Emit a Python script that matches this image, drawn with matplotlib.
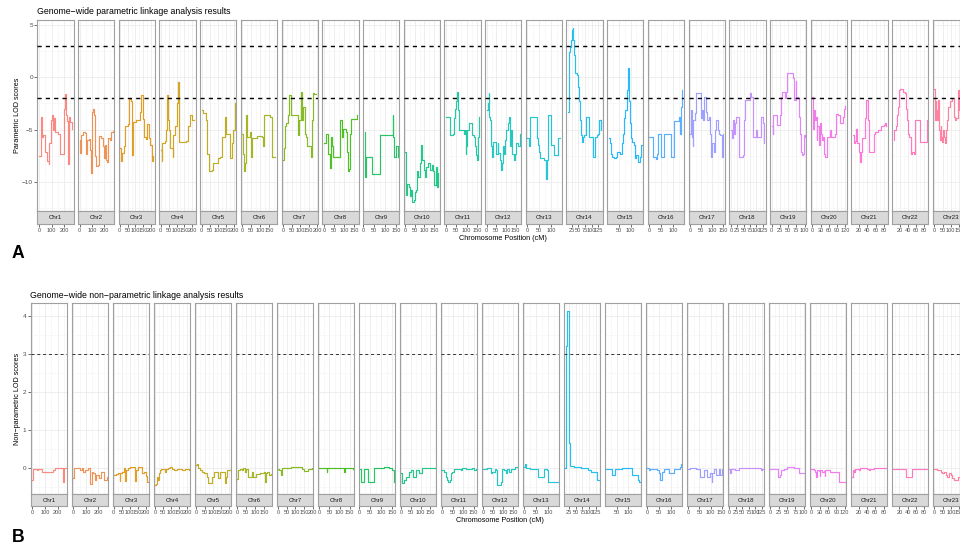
import numpy as np
import matplotlib
matplotlib.use("Agg")
import matplotlib.pyplot as plt

plt.rcParams['font.family'] = ['Liberation Sans', 'DejaVu Sans']

# Parametric LOD scores per chromosome (position in cM, score)
chr1_cm = [0, 16, 21, 29, 47, 60, 76, 81, 97, 104, 110, 117, 126, 150, 168, 199, 207, 215, 223, 231, 238, 246, 262]
chr1_lod = [-7.5, -3.8, -5.7, -5.5, -7.1, -8.0, -8.3, -6.3, -4.1, -3.6, -5.0, -3.9, -5.2, -5.4, -7.3, -3.0, -1.6, -3.6, -4.2, -8.3, -3.8, -4.3, -4.9]
chr2_cm = [0, 5, 11, 27, 40, 48, 56, 72, 86, 96, 102, 107, 115, 123, 131, 153, 158, 174, 188, 196, 206, 217, 225, 233, 247, 257, 268]
chr2_lod = [-6.0, -7.2, -5.5, -5.2, -5.3, -7.3, -6.0, -5.9, -7.0, -9.2, -3.3, -3.0, -3.6, -7.5, -8.5, -8.4, -5.6, -5.8, -6.6, -7.7, -6.5, -7.9, -8.1, -5.8, -6.0, -5.2, -5.1]
chr3_cm = [4, 8, 15, 25, 35, 50, 60, 70, 75, 85, 105, 130, 138, 146, 155, 166, 176, 186, 194, 203, 214]
chr3_lod = [-6.8, -8.0, -7.2, -6.6, -4.7, -4.5, -2.1, -2.3, -7.4, -4.3, -4.1, -3.3, -1.7, -4.0, -5.7, -5.9, -4.5, -5.8, -6.5, -8.0, -7.5]
chr4_cm = [3, 7, 11, 28, 34, 42, 49, 55, 59, 75, 80, 90, 100, 107, 113, 117, 162, 173, 183, 200, 210]
chr4_lod = [-7.0, -8.0, -6.3, -6.1, -5.0, -1.7, -4.1, -5.0, -6.8, -7.6, -5.5, -4.7, -2.5, -0.4, -4.1, -6.2, -6.1, -4.7, -3.6, -4.1, -4.1]
chr5_cm = [0, 10, 25, 31, 47, 62, 72, 103, 113, 123, 144, 150, 174, 178, 185, 195, 205]
chr5_lod = [-3.1, -3.4, -4.1, -7.3, -9.0, -8.9, -8.2, -7.7, -7.6, -5.7, -3.8, -5.4, -5.5, -7.7, -6.3, -5.0, -2.5]
chr6_cm = [0, 4, 9, 15, 20, 28, 43, 46, 52, 80, 107, 117, 122, 157, 163, 185]
chr6_lod = [-5.4, -7.3, -9.0, -8.2, -3.6, -5.7, -5.2, -7.6, -5.8, -5.6, -5.7, -6.6, -3.6, -3.8, -7.6, -7.6]
chr7_cm = [0, 6, 11, 19, 28, 34, 47, 51, 85, 91, 95, 104, 114, 120, 129, 133, 142, 148, 165, 171, 177, 184, 195]
chr7_lod = [-7.9, -6.8, -4.7, -4.4, -3.6, -1.7, -3.6, -3.6, -5.5, -4.7, -4.1, -1.4, -4.1, -2.8, -5.4, -5.7, -6.6, -6.6, -7.6, -4.1, -1.5, -1.6, -1.6]
chr8_cm = [0, 13, 23, 30, 35, 40, 46, 76, 83, 89, 96, 109, 116, 120, 125, 129, 134, 165]
chr8_lod = [-6.3, -5.4, -7.3, -8.7, -5.7, -6.6, -7.6, -7.6, -4.1, -5.7, -4.9, -5.2, -7.1, -9.0, -8.8, -5.4, -4.0, -3.6]
chr9_cm = [5, 8, 13, 36, 41, 72, 75, 129, 134, 137, 141, 149, 157]
chr9_lod = [-5.2, -9.5, -7.6, -7.6, -9.3, -9.3, -5.5, -5.5, -3.6, -5.7, -7.6, -6.6, -7.6]
chr10_cm = [0, 5, 11, 19, 25, 32, 37, 46, 51, 58, 63, 68, 75, 81, 86, 89, 96, 102, 110, 119, 128, 137, 145, 151, 158, 163, 172]
chr10_lod = [-7.1, -11.3, -10.2, -10.5, -11.4, -10.8, -11.9, -11.7, -11.0, -10.8, -9.0, -9.5, -8.2, -6.5, -6.7, -7.9, -8.9, -9.5, -8.6, -8.2, -8.9, -8.4, -9.0, -10.3, -8.6, -10.5, -9.2]
chr11_cm = [0, 19, 21, 35, 38, 43, 48, 54, 59, 62, 86, 91, 96, 99, 104, 112, 123, 126, 134, 139, 144, 150, 155, 160]
chr11_lod = [-3.8, -3.9, -5.5, -5.4, -3.9, -3.0, -2.3, -1.4, -3.1, -5.0, -5.4, -5.0, -7.3, -6.6, -5.0, -4.4, -4.4, -5.5, -5.7, -6.6, -7.4, -7.9, -5.7, -3.8]
chr12_cm = [0, 5, 10, 14, 19, 22, 27, 34, 48, 56, 61, 68, 73, 78, 85, 90, 97, 102, 110, 116, 122, 128, 133, 139, 145, 153, 162, 170]
chr12_lod = [-3.1, -2.5, -1.5, -3.8, -4.1, -6.6, -7.6, -6.2, -7.3, -6.3, -7.2, -7.9, -8.9, -8.2, -6.6, -7.3, -6.0, -5.0, -4.4, -3.8, -6.6, -5.0, -7.3, -7.9, -7.3, -6.3, -6.6, -5.4]
chr13_cm = [0, 6, 8, 11, 36, 39, 45, 50, 55, 69, 76, 80, 83, 87, 97, 99, 108, 111, 129, 140]
chr13_lod = [-5.8, -5.8, -6.6, -3.8, -3.8, -5.8, -6.5, -7.1, -7.7, -7.9, -7.9, -9.7, -7.9, -3.6, -3.6, -6.5, -6.5, -7.4, -5.8, -5.8]
chr14_cm = [12, 14, 17, 21, 23, 27, 29, 32, 35, 39, 45, 49, 53, 57, 60, 64, 67, 72, 78, 89, 91, 101, 104, 109, 113, 119, 125, 129, 133, 135]
chr14_lod = [-3.3, -1.9, 2.4, 2.9, 3.6, 4.5, 4.7, 3.6, 2.1, 0.4, 0.2, -0.9, -2.3, -4.1, -5.5, -6.2, -5.7, -5.5, -3.8, -3.8, -5.7, -5.7, -7.6, -7.6, -5.7, -5.5, -5.4, -4.1, -5.0, -4.1]
chr15_cm = [6, 12, 16, 20, 30, 37, 43, 54, 61, 66, 71, 77, 83, 87, 90, 93, 97, 101, 108, 114, 120, 125, 130, 134, 139, 144, 148]
chr15_lod = [-5.8, -6.3, -7.3, -7.6, -7.7, -7.6, -7.1, -7.3, -6.3, -5.4, -3.9, -3.1, -1.2, 0.4, 0.9, -2.3, -4.4, -5.8, -6.2, -6.5, -7.7, -7.4, -7.9, -8.1, -7.6, -6.5, -6.5]
chr16_cm = [0, 14, 17, 26, 31, 35, 47, 61, 86, 90, 100, 104, 125, 128, 132, 136, 139]
chr16_lod = [-5.7, -5.7, -7.6, -7.8, -7.3, -5.4, -7.6, -5.4, -5.4, -7.6, -7.6, -4.2, -3.8, -5.4, -2.8, -1.2, -1.2]
chr17_cm = [0, 3, 8, 11, 15, 21, 26, 44, 48, 51, 56, 60, 65, 71, 77, 84, 89, 96, 101, 107, 113, 119, 125, 131, 137, 143, 146, 150]
chr17_lod = [-5.4, -3.1, -5.7, -6.6, -4.1, -3.4, -1.5, -1.5, -3.3, -3.9, -3.1, -4.1, -1.9, -3.3, -4.1, -3.8, -5.4, -7.6, -6.3, -7.1, -5.0, -4.1, -5.0, -5.4, -5.5, -7.0, -7.6, -5.4]
chr18_cm = [0, 3, 7, 10, 13, 17, 22, 30, 48, 52, 55, 64, 74, 79, 85, 98, 100, 104, 113, 116, 122, 126, 129]
chr18_lod = [-5.0, -5.8, -5.4, -4.1, -5.4, -4.4, -3.8, -7.6, -7.4, -4.1, -2.2, -2.2, -1.5, -1.9, -5.7, -5.7, -5.0, -5.7, -5.7, -3.8, -3.8, -4.4, -6.3]
chr19_cm = [0, 3, 5, 15, 18, 23, 27, 30, 33, 37, 40, 45, 48, 63, 65, 68, 71, 73, 75, 80, 83, 85, 88, 91, 95, 98, 100]
chr19_lod = [-4.7, -5.4, -3.6, -3.6, -4.6, -4.6, -3.6, -1.9, -1.4, -1.4, -2.0, -1.4, 0.4, 0.4, -0.1, -2.2, -2.2, -0.3, -1.9, -2.0, -3.8, -5.4, -7.1, -7.4, -7.3, -5.5, -5.7]
chr20_cm = [0, 2, 5, 8, 11, 13, 16, 19, 23, 28, 31, 35, 38, 42, 46, 52, 55, 61, 64, 70, 82, 88, 94, 100, 106, 112, 116, 120]
chr20_lod = [-1.9, -4.9, -4.1, -3.1, -4.1, -3.8, -6.0, -4.7, -6.5, -4.4, -5.4, -6.0, -5.7, -7.3, -7.6, -7.6, -5.7, -5.7, -5.0, -5.7, -5.4, -3.5, -3.6, -4.4, -4.4, -3.8, -3.0, -2.7]
chr21_cm = [5, 7, 10, 13, 15, 18, 20, 22, 24, 27, 34, 36, 39, 42, 44, 52, 55, 59, 66, 74, 78, 81, 83, 85]
chr21_lod = [-5.5, -6.3, -6.1, -4.9, -6.3, -6.3, -7.1, -8.1, -7.1, -5.8, -3.9, -2.2, -2.2, -4.1, -7.1, -7.1, -5.4, -5.2, -5.0, -4.7, -4.7, -4.6, -4.4, -4.7]
chr22_cm = [5, 7, 10, 13, 16, 18, 21, 28, 32, 35, 38, 41, 44, 47, 51, 55, 59, 69, 71, 85, 87]
chr22_lod = [-6.0, -5.0, -4.7, -3.6, -2.8, -1.2, -1.1, -1.4, -1.5, -3.0, -4.1, -5.4, -5.7, -7.3, -7.1, -7.3, -4.1, -4.1, -6.2, -6.2, -4.1]
chr23_cm = [0, 4, 8, 12, 16, 20, 25, 31, 35, 39, 43, 47, 51, 57, 62, 68, 72, 78, 86, 96, 107, 117, 127, 133, 144, 150, 154, 164, 184, 201]
chr23_lod = [-1.1, -4.1, -2.3, -4.1, -3.1, -4.1, -2.2, -5.0, -6.0, -4.7, -5.7, -6.2, -5.0, -5.7, -6.3, -6.3, -5.0, -4.1, -2.8, -2.3, -2.0, -3.8, -4.1, -3.9, -1.2, -3.1, -4.1, -3.4, -4.4, -3.8]

# Non-parametric LOD scores per chromosome
chr1_npl_cm = [0, 3, 8, 34, 47, 73, 165, 178, 238, 246, 252, 262]
chr1_npl = [-0.33, -0.05, -0.02, -0.05, -0.02, -0.10, -0.06, 0.0, -0.37, -0.2, 0.0, 0.0]
chr2_npl_cm = [0, 5, 54, 67, 78, 94, 121, 134, 150, 161, 172, 185, 209, 225, 249, 268]
chr2_npl = [-0.28, 0.0, -0.07, 0.0, -0.1, -0.07, 0.0, -0.42, -0.1, -0.15, -0.32, -0.18, -0.28, -0.11, -0.32, -0.25]
chr3_npl_cm = [4, 17, 30, 38, 40, 55, 65, 71, 80, 90, 101, 136, 141, 151, 175, 181, 189, 200, 208, 214]
chr3_npl = [-0.19, -0.16, -0.14, -0.35, -0.15, -0.12, 0.0, -0.35, -0.05, 0.0, 0.03, -0.36, -0.07, 0.02, -0.01, -0.15, -0.1, -0.23, -0.37, -0.37]
chr4_npl_cm = [3, 9, 15, 21, 27, 33, 40, 61, 69, 83, 96, 106, 120, 137, 168, 189, 210]
chr4_npl = [-0.46, -0.42, -0.24, -0.32, -0.15, -0.07, -0.02, -0.1, -0.02, 0.0, 0.02, -0.02, -0.05, -0.02, -0.06, -0.04, -0.05]
chr5_npl_cm = [0, 6, 10, 25, 35, 45, 66, 72, 96, 109, 123, 133, 148, 174, 178, 185, 191, 205]
chr5_npl = [0.07, 0.11, 0.0, -0.06, -0.1, -0.15, -0.25, -0.40, -0.24, -0.1, -0.1, -0.27, -0.12, -0.1, -0.41, -0.24, -0.06, -0.05]
chr6_npl_cm = [0, 6, 15, 24, 33, 43, 48, 57, 61, 80, 89, 104, 126, 150, 155, 159, 167, 174, 185]
chr6_npl = [-0.3, -0.06, -0.02, -0.06, -0.01, -0.1, -0.02, -0.06, -0.24, -0.12, -0.24, -0.16, -0.15, -0.12, -0.37, -0.15, -0.1, -0.2, -0.16]
chr7_npl_cm = [0, 6, 15, 19, 76, 137, 152, 171, 195]
chr7_npl = [-0.02, -0.06, -0.2, 0.0, 0.01, -0.02, -0.08, -0.03, 0.0]
chr8_npl_cm = [0, 36, 40, 111, 124, 127, 165]
chr8_npl = [0.0, -0.1, 0.0, -0.01, -0.1, -0.01, -0.02]
chr9_npl_cm = [5, 8, 20, 41, 69, 114, 134, 149, 157]
chr9_npl = [-0.02, -0.37, -0.02, -0.37, 0.0, 0.03, 0.0, -0.06, -0.37]
chr10_npl_cm = [0, 5, 14, 23, 40, 49, 58, 75, 93, 107, 172]
chr10_npl = [-0.15, -0.4, -0.33, -0.24, -0.1, -0.05, -0.24, -0.05, -0.15, 0.0, 0.0]
chr11_npl_cm = [0, 8, 16, 24, 29, 35, 40, 48, 56, 88, 96, 112, 128, 144, 152, 160]
chr11_npl = [-0.06, -0.1, -0.24, -0.33, -0.37, -0.33, -0.15, -0.1, -0.02, -0.06, -0.01, -0.04, -0.02, 0.0, -0.06, -0.02]
chr12_npl_cm = [0, 20, 37, 44, 58, 63, 71, 80, 88, 94, 105, 114, 119, 131, 139, 163, 170]
chr12_npl = [-0.02, 0.0, -0.15, -0.1, -0.02, -0.06, -0.46, -0.46, -0.37, -0.02, -0.06, -0.15, -0.02, -0.1, -0.02, 0.01, 0.03]
chr13_npl_cm = [0, 3, 6, 25, 57, 81, 94, 98, 140]
chr13_npl = [0.02, 0.1, 0.0, -0.02, -0.24, -0.02, -0.05, -0.37, -0.37]
chr14_npl_cm = [12, 15, 16, 17, 18, 25, 26, 28, 29, 45, 70, 95, 105, 130, 135]
chr14_npl = [0.0, 0.05, 3.2, 3.6, 4.12, 3.7, 0.64, 0.6, 0.05, 0.02, 0.0, -0.05, -0.1, -0.33, -0.33]
chr15_npl_cm = [6, 32, 44, 74, 117, 140, 144, 148]
chr15_npl = [-0.02, -0.19, -0.02, -0.01, -0.19, -0.33, -0.37, -0.37]
chr16_npl_cm = [0, 6, 10, 40, 47, 51, 61, 68, 89, 110, 135, 139]
chr16_npl = [0.0, -0.05, -0.02, -0.06, -0.15, -0.33, -0.1, -0.02, -0.13, -0.02, 0.03, 0.1]
chr17_npl_cm = [0, 9, 33, 51, 69, 84, 99, 104, 107, 114, 122, 137, 144, 150]
chr17_npl = [-0.02, 0.0, -0.02, -0.24, -0.07, -0.24, -0.15, -0.37, -0.15, -0.02, -0.19, -0.02, -0.19, -0.02]
chr18_npl_cm = [0, 3, 5, 23, 36, 109, 121, 127, 130]
chr18_npl = [-0.02, -0.15, -0.02, -0.07, 0.0, 0.0, -0.06, -0.02, -0.02]
chr19_npl_cm = [0, 23, 28, 32, 40, 50, 60, 70, 85, 100]
chr19_npl = [-0.02, -0.25, -0.19, -0.06, -0.02, 0.01, 0.03, 0.0, -0.15, -0.15]
chr20_npl_cm = [0, 8, 14, 18, 20, 26, 30, 32, 38, 44, 48, 50, 67, 98, 120]
chr20_npl = [-0.02, -0.06, -0.1, -0.24, -0.06, -0.08, -0.22, -0.06, -0.1, -0.08, -0.22, -0.06, -0.1, -0.37, -0.37]
chr21_npl_cm = [5, 7, 10, 12, 16, 20, 24, 40, 44, 48, 56, 85]
chr21_npl = [-0.24, -0.06, -0.1, -0.04, -0.02, -0.06, 0.0, -0.02, -0.06, -0.02, 0.0, 0.0]
chr22_npl_cm = [5, 33, 35, 49, 51, 87]
chr22_npl = [-0.02, -0.02, -0.24, -0.24, -0.02, -0.03]
chr23_npl_cm = [0, 16, 37, 47, 57, 68, 78, 88, 98, 109, 119, 140, 170, 201]
chr23_npl = [-0.02, -0.06, -0.1, -0.15, -0.1, -0.19, -0.24, -0.15, -0.19, -0.28, -0.32, -0.25, -0.1, -0.05]

# x-axis breaks for each chromosome facet
x_breaks = [
    [0, 100, 200], [0, 100, 200], [0, 50, 100, 150, 200], [0, 50, 100, 150, 200],
    [0, 50, 100, 150, 200], [0, 50, 100, 150], [0, 50, 100, 150, 200], [0, 50, 100, 150],
    [0, 50, 100, 150], [0, 50, 100, 150], [0, 50, 100, 150], [0, 50, 100, 150],
    [0, 50, 100], [25, 50, 75, 100, 125], [50, 100], [0, 50, 100], [0, 50, 100, 150],
    [0, 25, 50, 75, 100, 125], [0, 25, 50, 75, 100], [0, 30, 60, 90, 120],
    [20, 40, 60, 80], [20, 40, 60, 80], [0, 50, 100, 150, 200],
]
chrom_names = ['Chr%d' % k for k in range(1, 24)]

lod_series = [
    (chr1_cm, chr1_lod), (chr2_cm, chr2_lod), (chr3_cm, chr3_lod), (chr4_cm, chr4_lod),
    (chr5_cm, chr5_lod), (chr6_cm, chr6_lod), (chr7_cm, chr7_lod), (chr8_cm, chr8_lod),
    (chr9_cm, chr9_lod), (chr10_cm, chr10_lod), (chr11_cm, chr11_lod), (chr12_cm, chr12_lod),
    (chr13_cm, chr13_lod), (chr14_cm, chr14_lod), (chr15_cm, chr15_lod), (chr16_cm, chr16_lod),
    (chr17_cm, chr17_lod), (chr18_cm, chr18_lod), (chr19_cm, chr19_lod), (chr20_cm, chr20_lod),
    (chr21_cm, chr21_lod), (chr22_cm, chr22_lod), (chr23_cm, chr23_lod),
]
npl_series = [
    (chr1_npl_cm, chr1_npl), (chr2_npl_cm, chr2_npl), (chr3_npl_cm, chr3_npl), (chr4_npl_cm, chr4_npl),
    (chr5_npl_cm, chr5_npl), (chr6_npl_cm, chr6_npl), (chr7_npl_cm, chr7_npl), (chr8_npl_cm, chr8_npl),
    (chr9_npl_cm, chr9_npl), (chr10_npl_cm, chr10_npl), (chr11_npl_cm, chr11_npl), (chr12_npl_cm, chr12_npl),
    (chr13_npl_cm, chr13_npl), (chr14_npl_cm, chr14_npl), (chr15_npl_cm, chr15_npl), (chr16_npl_cm, chr16_npl),
    (chr17_npl_cm, chr17_npl), (chr18_npl_cm, chr18_npl), (chr19_npl_cm, chr19_npl), (chr20_npl_cm, chr20_npl),
    (chr21_npl_cm, chr21_npl), (chr22_npl_cm, chr22_npl), (chr23_npl_cm, chr23_npl),
]
x_ranges = [(min(cm), max(cm)) for cm, _ in lod_series]

W, H = 960, 543
BORDER = '#A0A0A0'


# ggplot-style evenly spaced hues (HCL, c=100, l=65) converted to sRGB
def hue_pal(n, c=100.0, l=65.0):
    xn, yn, zn = 0.95047, 1.0, 1.08883
    un = 4 * xn / (xn + 15 * yn + 3 * zn)
    vn = 9 * yn / (xn + 15 * yn + 3 * zn)
    m = np.array([[3.2404542, -1.5371385, -0.4985314],
                  [-0.9692660, 1.8760108, 0.0415560],
                  [0.0556434, -0.2040259, 1.0572252]])
    y = ((l + 16) / 116) ** 3
    out = []
    for h in np.radians(np.linspace(15, 375, n + 1)[:-1]):
        u = c * np.cos(h) / (13 * l) + un
        v = c * np.sin(h) / (13 * l) + vn
        x = y * 9 * u / (4 * v)
        z = y * (12 - 3 * u - 20 * v) / (4 * v)
        rgb = np.clip(m @ np.array([x, y, z]), 0, None)
        rgb = np.where(rgb <= 0.0031308, 12.92 * rgb, 1.055 * rgb ** (1 / 2.4) - 0.055)
        out.append(tuple(np.clip(rgb, 0, 1)))
    return out


# pixel box (left, top, right, bottom) -> figure fraction rect
def box(x0, y0, x1, y1):
    return [x0 / W, 1 - y1 / H, (x1 - x0) / W, (y1 - y0) / H]


def draw_row(fig, series, top, bottom, strip, left, pitch, width, ylim, yticks,
             thresholds, dash_lw, dash_color):
    colors = hue_pal(len(series))
    ystep = yticks[1] - yticks[0]
    for i, (cm, vals) in enumerate(series):
        x0 = left + i * pitch
        ax = fig.add_axes(box(x0, top, x0 + width, bottom))
        sax = fig.add_axes(box(x0, bottom, x0 + width, strip))

        lo, hi = x_ranges[i]
        pad = 0.05 * (hi - lo)
        xlim = (lo - pad, hi + pad)

        ax.plot(cm, vals, drawstyle='steps-post', color=colors[i], lw=0.85, alpha=0.85, zorder=3)
        for t in thresholds:
            ax.axhline(t, color=dash_color, lw=dash_lw, ls=(0, (3, 3)), zorder=4)

        brks = x_breaks[i]
        xstep = brks[1] - brks[0]
        ax.set_xticks(brks)
        ax.set_xticks(np.arange(brks[0] - xstep, xlim[1] + xstep, xstep / 2), minor=True)
        ax.set_yticks(yticks)
        ax.set_yticks(np.arange(yticks[0] - ystep, ylim[1] + ystep, ystep / 2), minor=True)
        ax.set_xlim(xlim)
        ax.set_ylim(ylim)
        ax.grid(which='major', color='#EBEBEB', lw=0.6)
        ax.grid(which='minor', color='#F4F4F4', lw=0.4)
        ax.set_axisbelow(True)
        ax.tick_params(axis='x', which='both', length=0, labelbottom=False)
        ax.tick_params(axis='y', which='minor', length=0)
        if i == 0:
            ax.tick_params(axis='y', which='major', length=2, width=0.5, color='#333333',
                           labelsize=4.6, labelcolor='#4D4D4D', pad=1)
        else:
            ax.tick_params(axis='y', which='major', length=0, labelleft=False)
        for s in ax.spines.values():
            s.set_color(BORDER)
            s.set_linewidth(0.8)

        # facet strip under the panel, carrying the x tick labels
        sax.set_facecolor('#D9D9D9')
        sax.set_xlim(xlim)
        sax.set_ylim(0, 1)
        sax.set_yticks([])
        sax.set_xticks(brks)
        sax.tick_params(axis='x', length=2, width=0.5, color='#333333', labelsize=4.1,
                        labelcolor='#4D4D4D', pad=1)
        sax.text(0.5, 0.5, chrom_names[i], transform=sax.transAxes, ha='center', va='center',
                 fontsize=4.4, color='#1A1A1A')
        for s in sax.spines.values():
            s.set_color(BORDER)
            s.set_linewidth(0.8)


fig = plt.figure(figsize=(W / 100, H / 100), dpi=100)
fig.patch.set_facecolor('white')

draw_row(fig, lod_series, top=20, bottom=211, strip=223.5, left=37.3, pitch=40.7, width=36.3,
         ylim=(-12.8, 5.5), yticks=[-10, -5, 0, 5], thresholds=[3, -2],
         dash_lw=1.0, dash_color='black')
draw_row(fig, npl_series, top=302.7, bottom=494.3, strip=505.7, left=30.7, pitch=41.0, width=36.7,
         ylim=(-0.70, 4.35), yticks=[0, 1, 2, 3, 4], thresholds=[3],
         dash_lw=0.7, dash_color='#333333')

fig.text(37 / W, 1 - 12 / H, 'Genome\u2212wide parametric linkage analysis results',
         fontsize=6.3, ha='left', va='center')
fig.text(30 / W, 1 - 295 / H, 'Genome\u2212wide non\u2212parametric linkage analysis results',
         fontsize=6.3, ha='left', va='center')
fig.text(18 / W, 1 - 115.5 / H, 'Parametric LOD scores', fontsize=5.2, rotation=90,
         ha='center', va='center')
fig.text(18 / W, 1 - 398.5 / H, 'Non\u2212parametric LOD scores', fontsize=5.2, rotation=90,
         ha='center', va='center')
fig.text(503 / W, 1 - 238 / H, 'Chromosome Position (cM)', fontsize=5.2, ha='center', va='center')
fig.text(500 / W, 1 - 520 / H, 'Chromosome Position (cM)', fontsize=5.2, ha='center', va='center')
fig.text(12 / W, 1 - 258.5 / H, 'A', fontsize=12.7, fontweight='bold', ha='left', va='baseline')
fig.text(12 / W, 1 - 541.5 / H, 'B', fontsize=12.7, fontweight='bold', ha='left', va='baseline')

fig.savefig('out.png', dpi=100)
